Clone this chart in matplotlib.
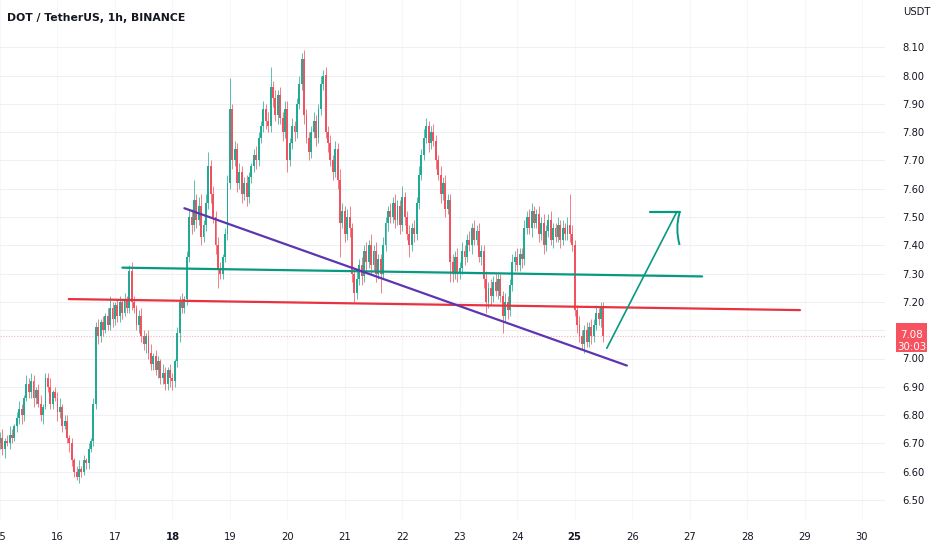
import matplotlib
matplotlib.use('Agg')
import matplotlib.pyplot as plt
from matplotlib.patches import Rectangle, PathPatch
from matplotlib.path import Path

# ---------------- data (hourly candles from day 15 00:00) ----------------
first_open = 6.70
closes = [
    6.72, 6.68, 6.71, 6.70, 6.73, 6.72, 6.76, 6.79, 6.82, 6.80,
    6.86, 6.91, 6.88, 6.92, 6.86, 6.89, 6.84, 6.80, 6.83, 6.93,
    6.90, 6.84, 6.88, 6.86, 6.81, 6.83, 6.76, 6.78, 6.72, 6.70,
    6.64, 6.60, 6.58, 6.61, 6.60, 6.64, 6.63, 6.68, 6.71, 6.84,
    7.11, 7.08, 7.13, 7.10, 7.15, 7.12, 7.18, 7.14, 7.19, 7.15,
    7.20, 7.16, 7.21, 7.18, 7.31, 7.20, 7.18, 7.12, 7.15, 7.08,
    7.05, 7.08, 7.02, 6.98, 7.01, 6.96, 6.99, 6.93, 6.95, 6.91,
    6.96, 6.93, 6.92, 6.99, 7.09, 7.20, 7.18, 7.21, 7.36, 7.50,
    7.47, 7.56, 7.49, 7.54, 7.43, 7.47, 7.55, 7.68, 7.58, 7.50,
    7.40, 7.32, 7.30, 7.36, 7.44, 7.62, 7.88, 7.70, 7.74, 7.62,
    7.66, 7.58, 7.62, 7.57, 7.64, 7.68, 7.72, 7.70, 7.78, 7.82,
    7.88, 7.84, 7.82, 7.96, 7.92, 7.86, 7.93, 7.85, 7.80, 7.88,
    7.70, 7.76, 7.82, 7.80, 7.90, 7.97, 8.06, 7.86, 7.78, 7.73,
    7.80, 7.84, 7.78, 7.88, 7.97, 8.00, 7.80, 7.76, 7.70, 7.66,
    7.74, 7.63, 7.48, 7.52, 7.44, 7.50, 7.46, 7.30, 7.23, 7.28,
    7.33, 7.29, 7.38, 7.34, 7.40, 7.33, 7.38, 7.30, 7.35, 7.30,
    7.40, 7.48, 7.52, 7.50, 7.55, 7.49, 7.54, 7.47, 7.57, 7.50,
    7.44, 7.40, 7.46, 7.44, 7.55, 7.65, 7.72, 7.78, 7.82, 7.76,
    7.80, 7.77, 7.70, 7.65, 7.58, 7.62, 7.53, 7.56, 7.34, 7.30,
    7.36, 7.30, 7.32, 7.38, 7.36, 7.42, 7.40, 7.46, 7.42, 7.45,
    7.36, 7.38, 7.28, 7.20, 7.25, 7.22, 7.27, 7.24, 7.28, 7.22,
    7.15, 7.20, 7.17, 7.26, 7.34, 7.36, 7.33, 7.37, 7.35, 7.46,
    7.50, 7.46, 7.52, 7.48, 7.51, 7.44, 7.48, 7.40, 7.45, 7.49,
    7.42, 7.46, 7.43, 7.47, 7.42, 7.46, 7.44, 7.47, 7.44, 7.40,
    7.17, 7.12, 7.08, 7.05, 7.10, 7.06, 7.11, 7.08, 7.12, 7.16,
    7.14, 7.18, 7.08,
]
# upper / lower wick lengths in cents
wick_up_c = [
    2, 3, 1, 2, 3, 2, 1, 2, 3, 2,
    1, 3, 2, 3, 2, 1, 2, 3, 1, 2,
    2, 3, 1, 2, 2, 3, 1, 2, 2, 1,
    2, 1, 2, 3, 1, 2, 1, 2, 1, 2,
    2, 3, 1, 2, 1, 3, 4, 2, 1, 2,
    2, 1, 2, 1, 2, 3, 2, 1, 2, 3,
    2, 1, 2, 3, 1, 2, 2, 1, 3, 2,
    1, 2, 2, 1, 2, 2, 3, 1, 2, 3,
    3, 7, 2, 3, 4, 2, 3, 5, 2, 3,
    2, 3, 2, 1, 2, 3, 11, 2, 3, 2,
    3, 2, 2, 3, 2, 1, 2, 3, 2, 2,
    3, 2, 3, 7, 2, 3, 2, 3, 2, 3,
    3, 2, 3, 2, 2, 3, 2, 3, 2, 2,
    2, 3, 2, 2, 3, 2, 3, 2, 3, 2,
    3, 2, 4, 3, 2, 3, 4, 2, 2, 3,
    2, 3, 2, 3, 2, 4, 2, 3, 2, 2,
    3, 2, 2, 3, 2, 3, 2, 2, 4, 2,
    2, 3, 2, 3, 2, 3, 2, 3, 3, 2,
    2, 3, 2, 2, 3, 2, 3, 2, 2, 3,
    2, 3, 2, 3, 2, 2, 3, 2, 3, 2,
    3, 2, 2, 3, 2, 3, 2, 3, 2, 2,
    2, 3, 2, 2, 3, 2, 3, 2, 2, 3,
    2, 3, 3, 2, 2, 3, 2, 3, 2, 2,
    3, 2, 2, 3, 2, 3, 2, 3, 11, 3,
    2, 2, 3, 2, 2, 3, 2, 3, 2, 3,
    2, 2, 2,
]
wick_dn_c = [
    2, 2, 3, 1, 2, 2, 1, 2, 2, 3,
    2, 1, 2, 2, 3, 2, 1, 2, 3, 1,
    2, 2, 2, 1, 3, 2, 2, 1, 2, 3,
    2, 2, 1, 2, 2, 1, 2, 2, 1, 2,
    2, 3, 2, 2, 1, 2, 2, 3, 2, 2,
    2, 2, 1, 2, 2, 3, 2, 2, 3, 2,
    2, 3, 2, 2, 2, 2, 3, 2, 2, 2,
    2, 3, 3, 2, 2, 3, 2, 2, 2, 2,
    3, 2, 3, 2, 3, 2, 2, 2, 3, 2,
    3, 7, 2, 2, 2, 2, 2, 3, 2, 3,
    2, 3, 2, 3, 2, 2, 2, 3, 2, 2,
    2, 3, 2, 2, 3, 2, 3, 2, 3, 2,
    4, 2, 2, 3, 2, 2, 2, 3, 2, 3,
    2, 2, 3, 2, 2, 2, 2, 3, 2, 3,
    2, 3, 12, 2, 3, 2, 3, 3, 3, 2,
    2, 3, 2, 3, 2, 3, 2, 3, 2, 7,
    2, 2, 3, 2, 2, 3, 2, 3, 2, 3,
    2, 4, 2, 3, 2, 2, 2, 2, 2, 3,
    2, 2, 3, 2, 3, 2, 3, 2, 7, 3,
    2, 3, 2, 2, 3, 2, 2, 3, 2, 2,
    2, 3, 3, 4, 2, 3, 2, 2, 3, 2,
    6, 2, 3, 2, 2, 3, 2, 2, 3, 2,
    2, 2, 3, 2, 2, 3, 2, 3, 2, 2,
    2, 3, 2, 2, 3, 2, 2, 2, 3, 2,
    2, 3, 2, 2, 3, 2, 2, 3, 2, 2,
    2, 3, 2,
]

day_numbers = [15, 16, 17, 18, 19, 20, 21, 22, 23, 24, 25, 26, 27, 28, 29, 30]
bold_days = [18, 25]
price_ticks = [6.50, 6.60, 6.70, 6.80, 6.90, 7.00, 7.10, 7.20, 7.30,
               7.40, 7.50, 7.60, 7.70, 7.80, 7.90, 8.00, 8.10]
last_price = 7.08
countdown = "30:03"
title = "DOT / TetherUS, 1h, BINANCE"
currency = "USDT"

# drawings (hours since day 15 00:00, price)
green_line = [(51.1, 7.321), (293.2, 7.290)]
red_line = [(28.7, 7.210), (334.1, 7.171)]
purple_line = [(77.0, 7.531), (261.8, 6.975)]
arrow_shaft = [(253.4, 7.036), (282.7, 7.519)]
arrow_head_bar = [(271.5, 7.517), (283.8, 7.517)]
arrow_head_curve = [(283.8, 7.514), (281.9, 7.462), (283.8, 7.401)]

# ---------------- figure ----------------
W, H = 932, 550
fig = plt.figure(figsize=(W / 100, H / 100), dpi=100)
ax_left_px, ax_right_px, ax_bottom_px = 0, 885, 520
ax = fig.add_axes([ax_left_px / W, (H - ax_bottom_px) / H,
                   (ax_right_px - ax_left_px) / W, ax_bottom_px / H])

UP = '#22ab94'
DN = '#f0525f'
narrow = ['Liberation Sans Narrow', 'DejaVu Sans']

opens = [first_open] + closes[:-1]
for i, (o, c, wu, wd) in enumerate(zip(opens, closes, wick_up_c, wick_dn_c)):
    col = UP if c >= o else DN
    top, bot = max(o, c), min(o, c)
    hi, lo = top + wu / 100, bot - wd / 100
    ax.vlines(i, lo, hi, color=col, linewidth=0.7, alpha=0.75, zorder=2)
    ax.bar(i, max(top - bot, 0.004), bottom=bot, width=0.8, color=col,
           linewidth=0, zorder=3)

# last price dotted line
ax.axhline(last_price, color='#f7525f', alpha=0.45, linewidth=0.8,
           linestyle=(0, (1, 1.5)), zorder=1)

# drawings
def seg(pts, **kw):
    ax.plot([p[0] for p in pts], [p[1] for p in pts], solid_capstyle='round', **kw)

seg(green_line, color='#089981', linewidth=1.6, zorder=5)
seg(red_line, color='#e8323f', linewidth=1.6, zorder=5)
seg(purple_line, color='#5e35b1', linewidth=1.6, zorder=5)
seg(arrow_shaft, color='#089981', linewidth=1.2, zorder=5)
seg(arrow_head_bar, color='#089981', linewidth=1.6, zorder=5)
curve = Path(arrow_head_curve, [Path.MOVETO, Path.CURVE3, Path.CURVE3])
ax.add_patch(PathPatch(curve, facecolor='none', edgecolor='#089981',
                       linewidth=1.4, zorder=5))

# scales: 2.396 px per hour, 283 px per 1.00 price
px_per_h = 57.5 / 24
x0 = 0.5 / px_per_h
ax.set_xlim(x0, x0 + (ax_right_px - ax_left_px) / px_per_h)
y_top = 8.00 + 75.5 / 283
ax.set_ylim(y_top - ax_bottom_px / 283, y_top)

for s in ax.spines.values():
    s.set_visible(False)

xt = [(d - 15) * 24 for d in day_numbers]
ax.set_xticks(xt)
ax.set_xticklabels([str(d) for d in day_numbers])
for lab, d in zip(ax.get_xticklabels(), day_numbers):
    lab.set_fontfamily(narrow)
    lab.set_fontsize(7.2)
    lab.set_color('#131722')
    if d in bold_days:
        lab.set_fontweight('bold')
ax.tick_params(axis='x', length=0, pad=8.3)

ax.yaxis.tick_right()
ax.set_yticks(price_ticks)
ax.set_yticklabels([f"{p:.2f}" for p in price_ticks])
for lab in ax.get_yticklabels():
    lab.set_fontfamily(narrow)
    lab.set_fontsize(7.2)
    lab.set_color('#131722')
ax.tick_params(axis='y', length=0, pad=12.5)

ax.grid(True, axis='y', color='#eef0f4', linewidth=0.8, zorder=0)
ax.grid(True, axis='x', color='#f6f7f9', linewidth=0.8, zorder=0)
ax.set_axisbelow(True)

# texts
fig.text(7 / W, 1 - 18 / H, title, fontfamily=narrow, fontsize=7.8,
         fontweight='bold', color='#131722', va='center', ha='left')
fig.text(903 / W, 1 - 12 / H, currency, fontfamily=narrow, fontsize=7.2,
         color='#131722', va='center', ha='left')

# price label box
bx0, bx1, by0, by1 = 896, 927, 323, 352
fig.add_artist(Rectangle((bx0 / W, 1 - by1 / H), (bx1 - bx0) / W, (by1 - by0) / H,
                         transform=fig.transFigure, facecolor='#f7525f',
                         edgecolor='none', zorder=10))
fig.text((bx0 + bx1) / 2 / W, 1 - 335 / H, f"{last_price:.2f}", fontfamily=narrow,
         fontsize=7.4, color='white', ha='center', va='center', zorder=11)
fig.text((bx0 + bx1) / 2 / W, 1 - 346.5 / H, countdown, fontfamily=narrow,
         fontsize=7.4, color='white', ha='center', va='center', zorder=11)

fig.savefig('out.png', dpi=100, facecolor='white')
